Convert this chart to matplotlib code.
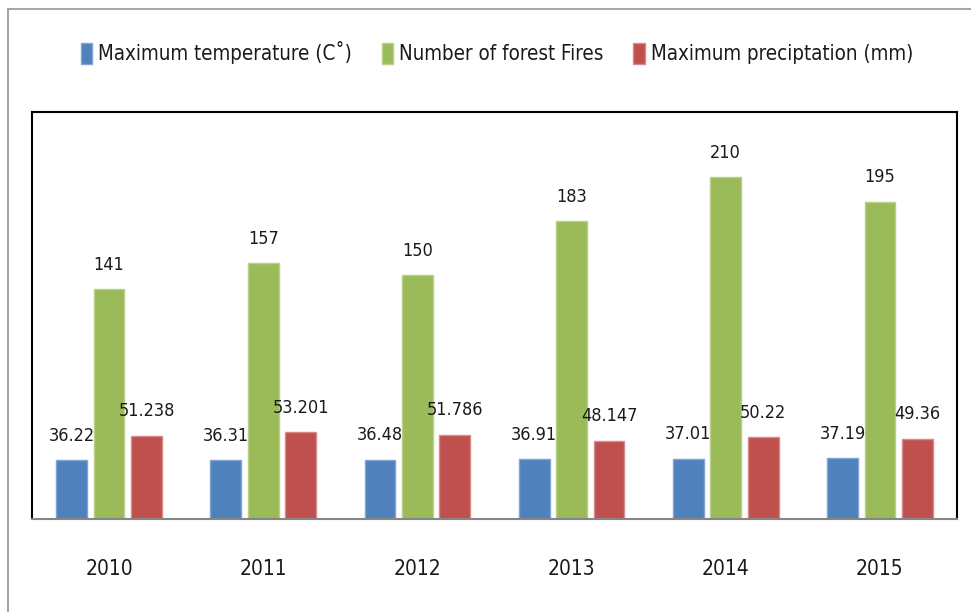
import matplotlib
matplotlib.use("Agg")
import matplotlib.pyplot as plt
from matplotlib.patches import Rectangle
import numpy as np

plt.rcParams['font.family'] = ['DejaVu Sans']
plt.rcParams['font.stretch'] = 'condensed'

years = ["2010", "2011", "2012", "2013", "2014", "2015"]
max_temp = [36.22, 36.31, 36.48, 36.91, 37.01, 37.19]
forest_fires = [141, 157, 150, 183, 210, 195]
max_precip = [51.238, 53.201, 51.786, 48.147, 50.22, 49.36]
temp_labels = ["36.22", "36.31", "36.48", "36.91", "37.01", "37.19"]
fire_labels = ["141", "157", "150", "183", "210", "195"]
precip_labels = ["51.238", "53.201", "51.786", "48.147", "50.22", "49.36"]
series_names = ["Maximum temperature (C\u02da)", "Number of forest Fires", "Maximum preciptation (mm)"]

colors = ["#4F81BD", "#9BBB59", "#C0504D"]
edges = ["#7FA3D3", "#B7D08A", "#D88A88"]

fig = plt.figure(figsize=(9.71, 6.12), dpi=100)
W, H = 971, 612
ax = fig.add_axes([32 / W, 1 - 519 / H, (957 - 32) / W, (519 - 112) / H])

# outer frame
fig.patches.append(Rectangle((8 / W, -0.05), 1.2, 1 - 9 / H + 0.05, transform=fig.transFigure,
                             fill=False, edgecolor="#A6A6A6", linewidth=1.5))

x = np.arange(len(years))
bw = 0.2
off = 0.243
data = [max_temp, forest_fires, max_precip]
labels = [temp_labels, fire_labels, precip_labels]
handles = []
for i, (vals, labs) in enumerate(zip(data, labels)):
    bars = ax.bar(x + (i - 1) * off, vals, width=bw, color=colors[i], edgecolor=edges[i],
                  linewidth=1, label=series_names[i])
    handles.append(bars)
    for rect, lab in zip(bars, labs):
        ax.annotate(lab, (rect.get_x() + rect.get_width() / 2, rect.get_height()),
                    xytext=(0, 11), textcoords="offset points", ha="center", va="bottom",
                    fontsize=13, color="#1a1a1a")

ax.set_xlim(-0.5, len(years) - 0.5)
ax.set_ylim(0, 250)
ax.set_yticks([])
ax.set_xticks(x)
ax.set_xticklabels(years, fontsize=15, color="#1a1a1a")
ax.tick_params(axis="x", length=0, pad=29)
for s in ["top", "left", "right"]:
    ax.spines[s].set_color("#000000")
    ax.spines[s].set_linewidth(1.5)
ax.spines["bottom"].set_color("#868686")
ax.spines["bottom"].set_linewidth(1.5)

leg = fig.legend(handles=handles, loc="center", bbox_to_anchor=(497 / W, 1 - 53 / H), ncol=3,
                 frameon=False, fontsize=14.8, handlelength=0.55, handleheight=1.25,
                 handletextpad=0.3, columnspacing=1.45)
for t in leg.get_texts():
    t.set_color("#1a1a1a")

fig.savefig("out.png", dpi=100)
